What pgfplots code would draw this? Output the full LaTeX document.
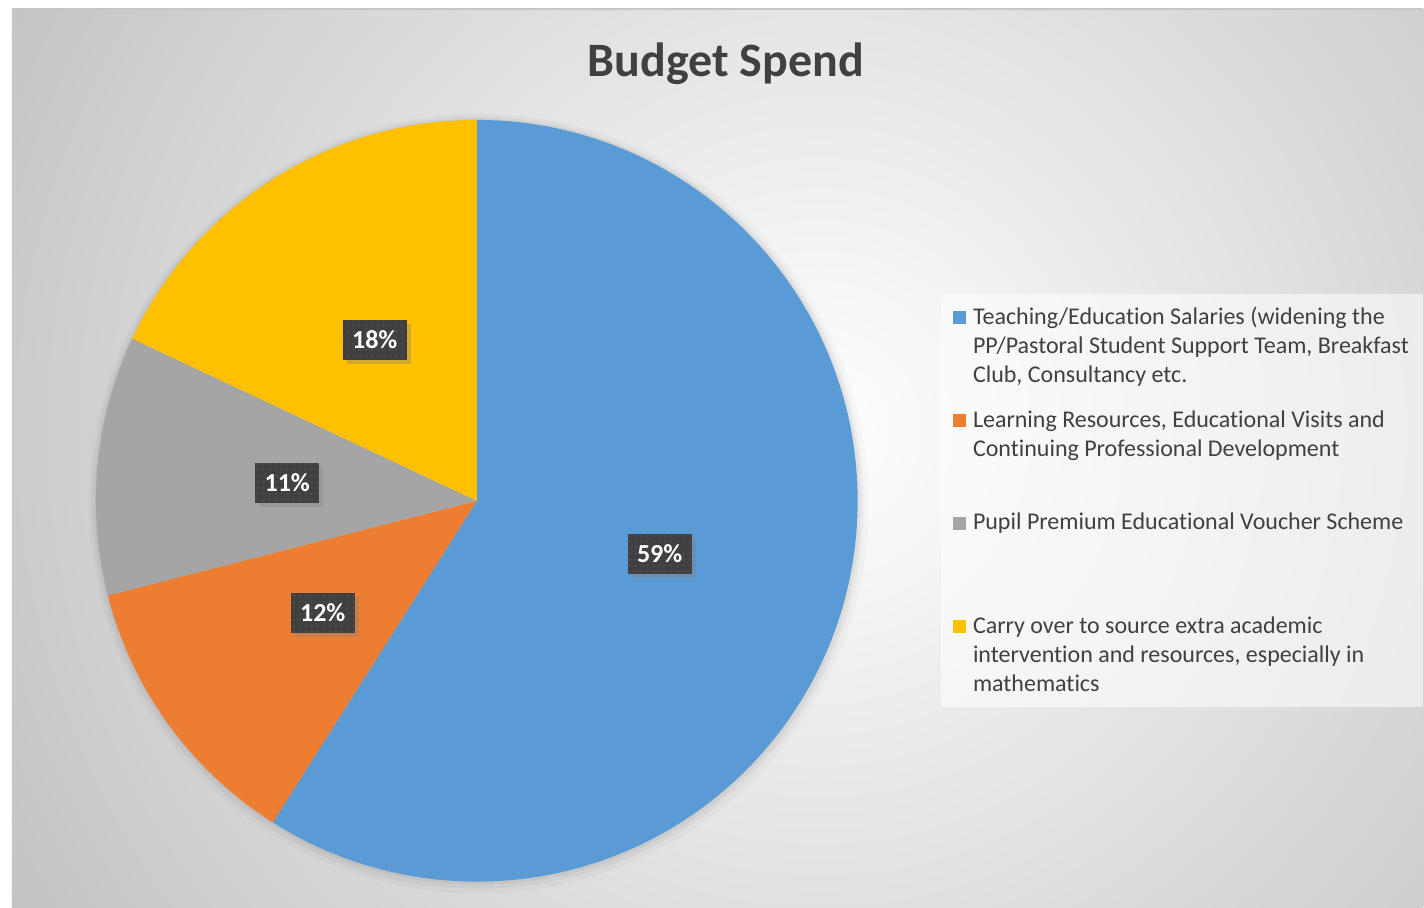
\documentclass[border=0pt]{standalone}
\usepackage{fontspec}
\setmainfont{Carlito}[RawFeature=-liga]
\usepackage{pgfplots}
\pgfplotsset{compat=1.18}
\usepackage{pgfplotstable}
\usetikzlibrary{patterns,shadows}

\definecolor{pblue}{HTML}{5B9BD5}
\definecolor{porange}{HTML}{ED7D31}
\definecolor{pgrey}{HTML}{A5A5A5}
\definecolor{pyellow}{HTML}{FFC000}
\definecolor{bgout}{HTML}{BFBFBF}
\definecolor{txt}{HTML}{404040}
\definecolor{lblbg}{HTML}{404040}
\definecolor{lbldot}{HTML}{555555}

% share of budget, per cent, clockwise from 12 o'clock
\pgfplotstableread{
pct col
59 pblue
12 porange
11 pgrey
18 pyellow
}\piedata

\tikzset{lbl/.style={fill=lblbg, text=white, font=\bfseries\fontsize{13}{15}\selectfont,
  minimum width=32pt, minimum height=20pt, inner sep=0pt,
  drop shadow={shadow xshift=2pt, shadow yshift=-2pt, opacity=0.35},
  postaction={pattern=dots, pattern color=lbldot}}}

% build slice and label commands from the table
\gdef\cumang{90}
\gdef\pieslices{}
\gdef\pielabels{}
\pgfplotstablegetrowsof{\piedata}
\pgfmathtruncatemacro\lastrow{\pgfplotsretval-1}
\foreach \row in {0,...,\lastrow}{%
  \pgfplotstablegetelem{\row}{pct}\of\piedata \let\slpct\pgfplotsretval
  \pgfplotstablegetelem{\row}{col}\of\piedata \let\slcol\pgfplotsretval
  \pgfmathsetmacro\angA{\cumang}%
  \pgfmathsetmacro\angB{\cumang-3.6*\slpct}%
  \pgfmathsetmacro\angM{(\angA+\angB)/2}%
  \pgfmathsetmacro\stx{477+381*cos(\angA)}%
  \pgfmathsetmacro\sty{407+381*sin(\angA)}%
  \pgfmathsetmacro\lbx{477+190.5*cos(\angM)}%
  \pgfmathsetmacro\lby{407+190.5*sin(\angM)}%
  \xdef\pieslices{\unexpanded\expandafter{\pieslices}\noexpand\fill[\slcol] (axis cs:477,407) -- (axis cs:\stx,\sty)
      arc[start angle=\angA, end angle=\angB, radius=190.5pt] -- cycle;}%
  \xdef\pielabels{\unexpanded\expandafter{\pielabels}\noexpand\node[lbl] at (axis cs:\lbx,\lby) {\slpct\noexpand\%};}%
  \xdef\cumang{\angB}%
}

\begin{document}
\begin{tikzpicture}
\begin{axis}[hide axis, scale only axis, width=712pt, height=454pt,
  xmin=0, xmax=1424, ymin=0, ymax=908, clip=false]
  % background
  \fill[white] (axis cs:0,0) rectangle (axis cs:1424,908);
  \begin{scope}
    \clip (axis cs:12,0) rectangle (axis cs:1424,899);
    \fill[bgout] (axis cs:12,0) rectangle (axis cs:1424,899);
    \shade[inner color=white, outer color=bgout] (axis cs:820,478) circle[radius=500pt];
  \end{scope}
  \draw[gray!45, line width=0.6pt] (axis cs:12,899) -- (axis cs:1424,899);

  % soft shadow round the pie
  \fill[black, opacity=0.025] (axis cs:479,404) circle[radius=195pt];
  \fill[black, opacity=0.035] (axis cs:478,405) circle[radius=193pt];
  \fill[black, opacity=0.045] (axis cs:478,406) circle[radius=191.5pt];

  \pieslices
  \pielabels

  % title
  \node[font=\bfseries\fontsize{24}{28}\selectfont, text=txt, anchor=base]
    at (axis cs:726,831) {Budget Spend};

  % legend
  \fill[white, opacity=0.55] (axis cs:941,201) rectangle (axis cs:1424,614);
  \fill[pblue]   (axis cs:953.5,583.5) rectangle (axis cs:966.5,596.5);
  \fill[porange] (axis cs:953.5,481)   rectangle (axis cs:966.5,494);
  \fill[pgrey]   (axis cs:953.5,377.5) rectangle (axis cs:966.5,390.5);
  \fill[pyellow] (axis cs:953.5,274.5) rectangle (axis cs:966.5,287.5);
  \begin{scope}[every node/.style={anchor=base west, inner sep=0pt, text=txt,
      font=\fontsize{12}{14.5}\selectfont}]
    \node at (axis cs:973,583) {\begin{tabular}[t]{@{}l@{}}Teaching/Education Salaries (widening the\\
      PP/Pastoral Student Support Team, Breakfast\\ Club, Consultancy etc.\end{tabular}};
    \node at (axis cs:973,480) {\begin{tabular}[t]{@{}l@{}}Learning Resources, Educational Visits and\\
      Continuing Professional Development\end{tabular}};
    \node at (axis cs:973,378) {Pupil Premium Educational Voucher Scheme};
    \node at (axis cs:973,274) {\begin{tabular}[t]{@{}l@{}}Carry over to source extra academic\\
      intervention and resources, especially in\\ mathematics\end{tabular}};
  \end{scope}
\end{axis}
\end{tikzpicture}
\end{document}
